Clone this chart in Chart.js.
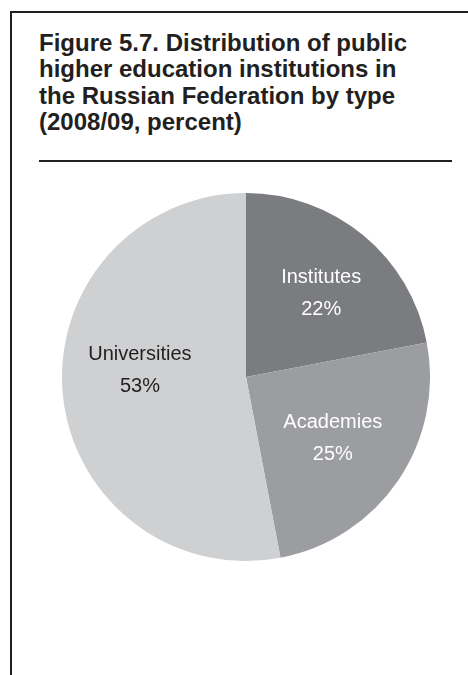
<!DOCTYPE html>
<html>
<head>
<meta charset="utf-8">
<script src="https://cdn.jsdelivr.net/npm/chart.js@4/dist/chart.umd.min.js"></script>
<style>
  html, body { margin: 0; padding: 0; background: #ffffff; }
  body { width: 468px; height: 675px; position: relative; overflow: hidden;
         font-family: "Liberation Sans", Arial, Helvetica, sans-serif; color: #231f20; }
  .frame-top { position: absolute; left: 10px; top: 11px; width: 458px; height: 2px; background: #231f20; }
  .frame-left { position: absolute; left: 10px; top: 11px; width: 2px; height: 664px; background: #231f20; }
  .title { position: absolute; left: 39px; top: 30px; width: 420px; font-weight: bold;
           font-size: 24px; line-height: 26.3px; white-space: nowrap; }
  .rule { position: absolute; left: 39px; top: 160px; width: 413px; height: 2px; background: #231f20; }
  #pie { position: absolute; left: 62px; top: 193px; }
</style>
</head>
<body>
<div class="frame-top"></div>
<div class="frame-left"></div>
<div class="title">Figure 5.7. Distribution of public<br>higher education institutions in<br>the Russian Federation by type<br>(2008/09, percent)</div>
<div class="rule"></div>
<canvas id="pie" width="368" height="368"></canvas>
<script>
// Institution types and their shares (percent)
const categories = ["Institutes", "Academies", "Universities"];
const shares = [22, 25, 53];
const sliceColors = ["#7b7c7f", "#9c9da0", "#cfd0d2"];
const labelColors = ["#ffffff", "#ffffff", "#231f20"];

// Writes the type name and percentage inside each slice,
// placed along the slice's middle angle with a small per-slice nudge
const sliceLabels = {
  id: "sliceLabels",
  afterDatasetsDraw(chart, args, opts) {
    const ctx = chart.ctx;
    const meta = chart.getDatasetMeta(0);
    const nudge = opts.nudge || [];
    ctx.save();
    ctx.font = "20px 'Liberation Sans', Arial, sans-serif";
    ctx.textAlign = "center";
    ctx.textBaseline = "middle";
    meta.data.forEach((arc, i) => {
      const p = arc.getProps(["x", "y", "startAngle", "endAngle", "outerRadius"], true);
      const mid = (p.startAngle + p.endAngle) / 2;
      const d = p.outerRadius * 0.59;
      const n = nudge[i] || [0, 0];
      const cx = p.x + Math.cos(mid) * d + n[0];
      const cy = p.y + Math.sin(mid) * d + n[1];
      ctx.fillStyle = labelColors[i];
      ctx.fillText(categories[i], cx, cy - 16);
      ctx.fillText(shares[i] + "%", cx, cy + 16);
    });
    ctx.restore();
  }
};

new Chart(document.getElementById("pie"), {
  type: "pie",
  data: {
    labels: categories,
    datasets: [{
      data: shares,
      backgroundColor: sliceColors,
      borderWidth: 0,
      hoverOffset: 0
    }]
  },
  options: {
    responsive: false,
    animation: false,
    layout: { padding: 0 },
    plugins: {
      legend: { display: false },
      tooltip: { enabled: false },
      sliceLabels: { nudge: [[6, 0], [-3, 0], [2, -17]] }
    }
  },
  plugins: [sliceLabels]
});
</script>
</body>
</html>
